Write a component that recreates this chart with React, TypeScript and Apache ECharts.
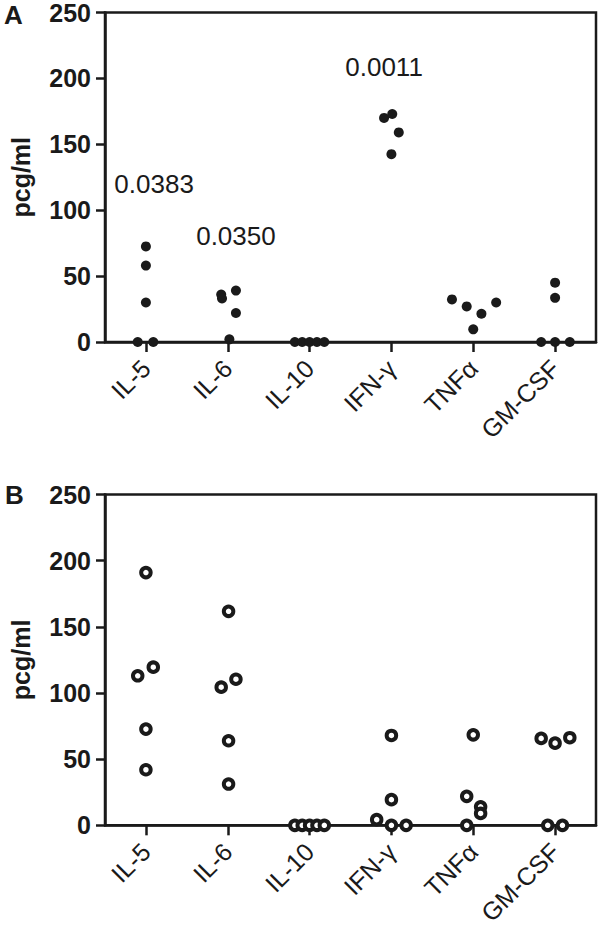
import React, { useEffect, useRef } from "react";
import * as echarts from "echarts";

// ---- data ----
const categories = ["IL-5", "IL-6", "IL-10", "IFN-γ", "TNFα", "GM-CSF"];
const yTicks = { min: 0, max: 250, step: 50 };

// Panel A (filled dots): values per cytokine and horizontal jitter (category units)
const valuesA = [
  [72.5, 58, 30, 0, 0],
  [36, 33, 39, 22, 2],
  [0, 0, 0, 0, 0],
  [170, 173, 159, 142.5],
  [32.3, 27, 21.4, 9.6, 30],
  [45, 33.5, 0, 0, 0],
];
const jitterA = [
  [0, 0, 0, -0.1, 0.09],
  [-0.08, -0.07, 0.1, 0.1, 0.02],
  [-0.18, -0.09, 0, 0.09, 0.18],
  [-0.09, 0.01, 0.09, 0],
  [-0.26, -0.08, 0.1, 0, 0.28],
  [0, 0, -0.17, 0, 0.18],
];
const pValueLabels = ["0.0383", "0.0350", "", "0.0011", "", ""];
const pValueY = [119.6, 80.6, 0, 209, 0, 0];
const pValueDx = [0.1, 0.1, 0, -0.09, 0, 0];

// Panel B (open circles)
const valuesB = [
  [191, 113, 119.5, 72.7, 42],
  [161.7, 104.4, 110.4, 63.9, 31.2],
  [0, 0, 0, 0, 0],
  [67.9, 19.4, 4.3, 0, 0],
  [68.4, 21.9, 14, 9, 0],
  [65.7, 62.1, 66.2, 0, 0],
];
const jitterB = [
  [0, -0.1, 0.09, 0, 0],
  [0.01, -0.08, 0.1, 0.01, 0.01],
  [-0.18, -0.09, 0, 0.09, 0.18],
  [0, 0, -0.18, 0, 0.18],
  [0, -0.08, 0.09, 0.09, -0.08],
  [-0.17, 0, 0.18, -0.09, 0.09],
];

const FONT = '"Liberation Sans", Arial, Helvetica, sans-serif';
const INK = "#1a1a1a";

function points(values: number[][], jitter: number[][]) {
  const out: number[][] = [];
  values.forEach((arr, i) =>
    arr.forEach((v, j) => out.push([i + (jitter[i][j] || 0), v]))
  );
  return out;
}

function grid(top: number) {
  return {
    left: 100,
    top,
    width: 496,
    height: 331,
    show: true,
    borderColor: INK,
    borderWidth: 2.5,
    backgroundColor: "transparent",
  };
}

function yAxis(gridIndex: number) {
  return {
    type: "value",
    gridIndex,
    min: yTicks.min,
    max: yTicks.max,
    interval: yTicks.step,
    axisLine: { show: true, onZero: false, lineStyle: { color: INK, width: 2.5 } },
    axisTick: { show: true, length: 9, lineStyle: { color: INK, width: 2.5 } },
    axisLabel: {
      fontSize: 25,
      fontWeight: "bold",
      color: INK,
      fontFamily: FONT,
      margin: 14,
    },
    splitLine: { show: false },
    name: "pcg/ml",
    nameLocation: "middle",
    nameRotate: 90,
    nameGap: 72,
    nameTextStyle: {
      fontSize: 25,
      fontWeight: "bold",
      color: INK,
      fontFamily: FONT,
    },
  };
}

function catAxis(gridIndex: number) {
  return {
    type: "category",
    gridIndex,
    data: categories,
    boundaryGap: true,
    axisLine: { show: true, onZero: false, lineStyle: { color: INK, width: 2.5 } },
    axisTick: {
      show: true,
      alignWithLabel: true,
      length: 10,
      lineStyle: { color: INK, width: 2.5 },
    },
    axisLabel: {
      rotate: 45,
      interval: 0,
      fontSize: 25,
      color: INK,
      fontFamily: FONT,
      margin: 22,
    },
    splitLine: { show: false },
  };
}

function valAxis(gridIndex: number) {
  return { type: "value", gridIndex, min: -0.5, max: 5.5, show: false };
}

export default function App() {
  const ref = useRef<HTMLDivElement>(null);
  useEffect(() => {
    document.body.style.margin = "0";
    if (!ref.current) return;
    const chart = echarts.init(ref.current, null, { renderer: "svg" });
    const pData = pValueLabels
      .map((t, i) => (t ? [i + pValueDx[i], pValueY[i], t] : null))
      .filter(Boolean);
    chart.setOption({
      animation: false,
      backgroundColor: "#ffffff",
      grid: [grid(11), grid(494.5)],
      xAxis: [catAxis(0), valAxis(0), catAxis(1), valAxis(1)],
      yAxis: [yAxis(0), yAxis(1)],
      graphic: [
        {
          type: "text",
          x: 4,
          y: 15,
          style: {
            text: "A",
            fontSize: 26,
            fontWeight: "bold",
            fontFamily: FONT,
            fill: INK,
            verticalAlign: "middle",
          },
        },
        {
          type: "text",
          x: 5,
          y: 495,
          style: {
            text: "B",
            fontSize: 26,
            fontWeight: "bold",
            fontFamily: FONT,
            fill: INK,
            verticalAlign: "middle",
          },
        },
      ],
      series: [
        {
          type: "scatter",
          xAxisIndex: 1,
          yAxisIndex: 0,
          data: points(valuesA, jitterA),
          symbol: "circle",
          symbolSize: 10,
          itemStyle: { color: INK, opacity: 1 },
          silent: true,
          z: 5,
        },
        {
          type: "scatter",
          xAxisIndex: 1,
          yAxisIndex: 0,
          data: pData,
          symbolSize: 1,
          itemStyle: { color: "transparent", opacity: 1 },
          label: {
            show: true,
            position: "inside",
            formatter: (p: any) => p.data[2],
            fontSize: 26,
            color: INK,
            fontFamily: FONT,
          },
          silent: true,
        },
        {
          type: "scatter",
          xAxisIndex: 3,
          yAxisIndex: 1,
          data: points(valuesB, jitterB),
          symbol: "circle",
          symbolSize: 9.5,
          itemStyle: { color: "#ffffff", borderColor: INK, borderWidth: 4, opacity: 1 },
          silent: true,
          z: 5,
        },
      ],
    });
    return () => chart.dispose();
  }, []);
  return <div ref={ref} style={{ width: 600, height: 928 }} />;
}
